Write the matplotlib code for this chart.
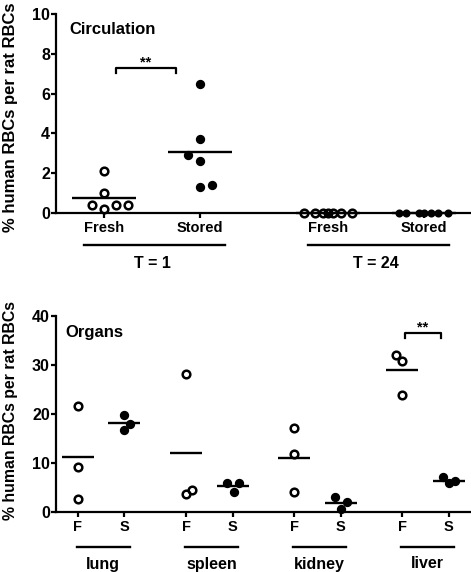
import numpy as np
import matplotlib
matplotlib.use('Agg')
import matplotlib.pyplot as plt
from matplotlib import transforms

plt.rcParams['font.family'] = ['Liberation Sans', 'DejaVu Sans']
plt.rcParams['font.weight'] = 'bold'

# ---------------- data ----------------
top_conditions = ['Fresh', 'Stored']
top_groups = ['T = 1', 'T = 24']
fresh_t1 = [2.1, 1.0, 0.4, 0.2, 0.4, 0.4]
stored_t1 = [6.5, 3.7, 2.9, 2.6, 1.3, 1.4]
fresh_t24 = [0.0, 0.0, 0.0, 0.0, 0.0, 0.0, 0.0]
stored_t24 = [0.0, 0.0, 0.0, 0.0, 0.0, 0.0, 0.0]
top_yticks = [0, 2, 4, 6, 8, 10]

organs = ['lung', 'spleen', 'kidney', 'liver']
organ_conditions = ['F', 'S']
fresh_lung, stored_lung = [21.6, 9.3, 2.7], [19.8, 17.9, 16.7]
fresh_spleen, stored_spleen = [28.2, 3.7, 4.5], [6.0, 4.2, 5.9]
fresh_kidney, stored_kidney = [17.1, 11.8, 4.2], [3.05, 2.1, 0.7]
fresh_liver, stored_liver = [32.0, 30.8, 23.8], [7.1, 5.9, 6.4]
bottom_yticks = [0, 10, 20, 30, 40]

# ---------------- layout (horizontal swarm offsets in pixels) ----------------
jit_fresh_t1 = [0, 0, -12, 0, 12, 24]
jit_stored_t1 = [0, 0, -12, 0, 0, 12]
jit_fresh_t24 = [-24, -13, -5, 0, 5, 13, 24]
jit_stored_t24 = [-25, -18, -5, 0, 7, 14, 24]
jit_fresh_org = [[0, 0, 0], [0, 0, 6], [0, 0, 0], [-6, 0, 0]]
jit_stored_org = [[0, 6, 0], [-6, 1, 6], [-6, 6, 0], [-6, 0, 6]]

W, H = 471, 572
GAP = 2.33
fig = plt.figure(figsize=(W / 100, H / 100), dpi=100)


def make_axes(top_px, bottom_px):
    return fig.add_axes([56 / W, 1 - bottom_px / H, (W - 56) / W, (bottom_px - top_px) / H])


def style_axes(ax, yticks, ylim, xlim, xpos, xlabels):
    ax.set_xlim(*xlim)
    ax.set_ylim(*ylim)
    for s in ['top', 'right']:
        ax.spines[s].set_visible(False)
    for s in ['left', 'bottom']:
        ax.spines[s].set_linewidth(1.6)
    ax.set_yticks(yticks)
    ax.set_yticklabels([str(t) for t in yticks], fontsize=11.5, fontweight='bold')
    ax.set_xticks(xpos)
    ax.set_xticklabels(xlabels, fontsize=10.5, fontweight='bold')
    ax.tick_params(axis='y', length=3.6, width=1.6, pad=0.8)
    ax.tick_params(axis='x', length=3.6, width=1.6, pad=2.2)
    ax.patch.set_alpha(0)


def swarm(ax, x, vals, jit, unit_px, filled, ms, half):
    xs = x + np.array(jit, dtype=float) / unit_px
    ax.plot(xs, vals, 'o', ms=ms, mew=1.8, mec='black',
            mfc='black' if filled else 'none', clip_on=False, zorder=4, linestyle='none')
    m = float(np.mean(vals))
    ax.plot([x - half, x + half], [m, m], color='black', lw=1.7,
            solid_capstyle='butt', clip_on=False, zorder=3)


# ---------------- top panel ----------------
axt = make_axes(14, 213)
unit_t = 96.0
xlim_t = (-0.5, (W - 104) / unit_t)
top_sets = [(fresh_t1, jit_fresh_t1, False), (stored_t1, jit_stored_t1, True),
            (fresh_t24, jit_fresh_t24, False), (stored_t24, jit_stored_t24, True)]
xpos_t = []
for gi in range(len(top_groups)):
    for ci in range(len(top_conditions)):
        xpos_t.append(gi * GAP + ci)
style_axes(axt, top_yticks, (0, 10), xlim_t, xpos_t, top_conditions * len(top_groups))
for k, (vals, jit, filled) in enumerate(top_sets):
    ms = 4.0 if (filled and max(vals) == 0) else (4.9 if filled else 5.5)
    swarm(axt, xpos_t[k], vals, jit, unit_t, filled, ms, 1 / 3)

# significance bracket
bx0, bx1 = xpos_t[0] + 0.125, xpos_t[0] + 0.75
axt.plot([bx0, bx0, bx1, bx1], [7.05, 7.3, 7.3, 7.05], color='black', lw=1.6, clip_on=False)
axt.text((bx0 + bx1) / 2, 7.35, '**', ha='center', va='baseline', fontsize=10.5, fontweight='bold')
fig.text(69 / W, 1 - 29 / H, 'Circulation', ha='left', va='center', fontsize=12, fontweight='bold')

bt = transforms.blended_transform_factory(axt.transData, fig.transFigure)
for gi, g in enumerate(top_groups):
    xf, xs_ = xpos_t[2 * gi], xpos_t[2 * gi + 1]
    axt.plot([xf - 0.21, xs_ + 0.26], [1 - 244.5 / H] * 2, color='black', lw=1.7,
             transform=bt, clip_on=False)
    axt.text((xf + xs_) / 2, 1 - 263 / H, g, transform=bt, ha='center', va='center',
             fontsize=11.5, fontweight='bold')

fig.text(11 / W, 1 - 117 / H, '% human RBCs per rat RBCs', rotation=90, ha='center',
         va='center', fontsize=12, fontweight='bold')

# ---------------- bottom panel ----------------
axb = make_axes(315.7, 512.3)
unit_b = 46.4
xlim_b = (-(78 - 56) / unit_b, (W - 78) / unit_b)
fresh_organs = [fresh_lung, fresh_spleen, fresh_kidney, fresh_liver]
stored_organs = [stored_lung, stored_spleen, stored_kidney, stored_liver]
xpos_b = []
for gi in range(len(organs)):
    for ci in range(len(organ_conditions)):
        xpos_b.append(gi * GAP + ci)
style_axes(axb, bottom_yticks, (0, 40), xlim_b, xpos_b, organ_conditions * len(organs))
for gi in range(len(organs)):
    swarm(axb, xpos_b[2 * gi], fresh_organs[gi], jit_fresh_org[gi], unit_b, False, 5.5, 0.345)
    swarm(axb, xpos_b[2 * gi + 1], stored_organs[gi], jit_stored_org[gi], unit_b, True, 4.9, 0.345)

lx = xpos_b[6]
c0, c1 = lx + 0.05, lx + 0.84
axb.plot([c0, c0, c1, c1], [35.4, 36.4, 36.4, 35.4], color='black', lw=1.6, clip_on=False)
axb.text((c0 + c1) / 2, 36.7, '**', ha='center', va='baseline', fontsize=10.5, fontweight='bold')
fig.text(65 / W, 1 - 332 / H, 'Organs', ha='left', va='center', fontsize=12, fontweight='bold')

bb = transforms.blended_transform_factory(axb.transData, fig.transFigure)
for gi, org in enumerate(organs):
    xf, xs_ = xpos_b[2 * gi], xpos_b[2 * gi + 1]
    a, b = xf - 0.03, xs_ + 0.12
    axb.plot([a, b], [1 - 547 / H] * 2, color='black', lw=1.7, transform=bb, clip_on=False)
    axb.text((a + b) / 2, 1 - 564 / H, org, transform=bb, ha='center', va='center',
             fontsize=11.5, fontweight='bold')

fig.text(11 / W, 1 - 410 / H, '% human RBCs per rat RBCs', rotation=90, ha='center',
         va='center', fontsize=11.4, fontweight='bold')

fig.savefig('out.png', dpi=100)
